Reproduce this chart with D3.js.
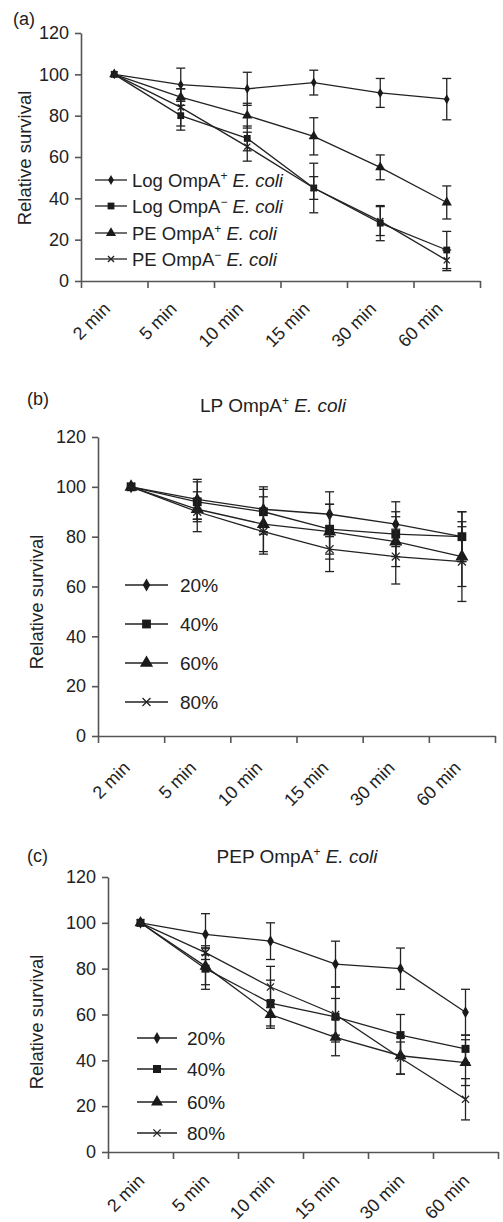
<!DOCTYPE html>
<html lang="en">
<head>
<meta charset="utf-8">
<script src="https://cdn.jsdelivr.net/npm/d3@7"></script>
<style>
body{margin:0;background:#fff;}
text{font-family:"Liberation Sans",Arial,sans-serif;fill:#222;}
.axis path,.axis line{stroke:#555;stroke-width:1.6;}
</style>
<title>Relative survival</title>
</head>
<body>
<div id="chart"></div>
<script>
const times = ["2 min","5 min","10 min","15 min","30 min","60 min"];
const yTicks = [0,20,40,60,80,100,120];

// (a) log / PE cells
const namesA = [["Log OmpA","+"],["Log OmpA","\u2212"],["PE OmpA","+"],["PE OmpA","\u2212"]];
const valuesA = [
  [100,95,93,96,91,88],
  [100,80,69,45,28,15],
  [100,89,80,70,55,38],
  [100,84,65,45,29,10]
];
const errorsA = [
  [0,8,8,6,7,10],
  [0,7,6,12,8.5,9],
  [0,4,6,9,6,8],
  [0,9,7,5.5,7,5]
];

// (b) LP OmpA+ E. coli
const namesB = ["20%","40%","60%","80%"];
const valuesB = [
  [100,95,91,89,85,80],
  [100,94,90,83,81,80],
  [100,91,85,82,78,72],
  [100,90,82,75,72,70]
];
const errorsB = [
  [0,8,9,9,9,10],
  [0,8,9,10,9,10],
  [0,4,11,11,10,12],
  [0,8,9,9,11,16]
];

// (c) PEP OmpA+ E. coli
const namesC = ["20%","40%","60%","80%"];
const valuesC = [
  [100,95,92,82,80,61],
  [100,80,65,59,51,45],
  [100,81,60,50,42,39],
  [100,87,72,60,41,23]
];
const errorsC = [
  [0,9,8,10,9,10],
  [0,9,10,8,9,6],
  [0,8,6,8,8,10],
  [0,3,9,12,7,9]
];

const shapes = ["diamond","square","triangle","star"];

const panels = [
  {tag:"(a)", tagX:13, tagY:25, title:null, x0:81, x1:480, yTop:33, yBot:281,
   labX:25, labY:158, tickOff:[-3,29], names:namesA, values:valuesA, errors:errorsA, italic:true,
   leg:{x1:95, x2:127, tx:132, ys:[180,206,233,259], fs:18.5}, ms:0.85},
  {tag:"(b)", tagX:27, tagY:405, title:"LP", titleX:273, titleY:412, x0:98, x1:495, yTop:437, yBot:736,
   labX:37, labY:602, tickOff:[0,33], names:namesB, values:valuesB, errors:errorsB, italic:false,
   leg:{x1:125, x2:168, tx:180, ys:[585,624,663,702], fs:19}, ms:1.1},
  {tag:"(c)", tagX:27, tagY:862, title:"PEP", titleX:297, titleY:863, x0:108, x1:498, yTop:877, yBot:1152,
   labX:37, labY:1022, tickOff:[5,30], names:namesC, values:valuesC, errors:errorsC, italic:false,
   leg:{x1:137, x2:177, tx:187, ys:[1038,1069,1102,1133], fs:19}, ms:1.0}
];

const W = 503, H = 1222;
const svg = d3.select("#chart").append("svg").attr("width", W).attr("height", H);

function marker(g, shape, x, y, k){
  if(shape == "star"){
    const s = 3.6*k;
    g.append("path")
      .attr("d","M"+(-s)+","+(-s)+"L"+s+","+s+"M"+(-s)+","+s+"L"+s+","+(-s))
      .attr("transform","translate("+x+","+y+")")
      .attr("stroke","#222").attr("stroke-width",1.3).attr("fill","none");
    return;
  }
  const sym = {diamond:d3.symbolDiamond, square:d3.symbolSquare, triangle:d3.symbolTriangle}[shape];
  const size = {diamond:40, square:64, triangle:62}[shape]*k*k;
  g.append("path")
    .attr("d", d3.symbol().type(sym).size(size)())
    .attr("transform","translate("+x+","+y+")")
    .attr("fill","#1a1a1a");
}

panels.forEach(function(p){
  const g = svg.append("g");
  const y = d3.scaleLinear().domain([0,120]).range([p.yBot,p.yTop]);
  const xi = d3.scaleLinear().domain([0,times.length]).range([p.x0,p.x1]);

  g.append("g").attr("class","axis")
    .attr("transform","translate("+p.x0+",0)")
    .call(d3.axisLeft(y).tickValues(yTicks).tickSize(6).tickSizeOuter(0).tickPadding(6))
    .selectAll("text").style("font-size","18px").style("font-family","'Liberation Sans',Arial,sans-serif").attr("fill","#222");

  g.append("g").attr("class","axis")
    .attr("transform","translate(0,"+p.yBot+")")
    .call(d3.axisBottom(xi).tickValues(d3.range(times.length+1)).tickFormat("").tickSize(7).tickSizeOuter(0));

  g.selectAll(".tlab")
    .data(times)
    .enter()
    .append("text")
    .attr("text-anchor","end")
    .style("font-size","18px")
    .attr("transform",function(d,i){return "translate("+(xi(i+0.5)+p.tickOff[0])+","+(p.yBot+p.tickOff[1])+") rotate(-45)";})
    .text(function(d){return d;});

  g.append("text").attr("x",p.tagX).attr("y",p.tagY).style("font-size","18px").text(p.tag);

  if(p.title){
    const t = g.append("text").attr("x",p.titleX).attr("y",p.titleY).attr("text-anchor","middle").style("font-size","19px");
    t.append("tspan").text(p.title + " OmpA");
    t.append("tspan").attr("baseline-shift","super").style("font-size","12px").text("+");
    t.append("tspan").text(" ");
    t.append("tspan").style("font-style","italic").text("E. coli");
  }

  g.append("text")
    .attr("transform","translate("+p.labX+","+p.labY+") rotate(-90)")
    .attr("text-anchor","middle").attr("dy","0.35em")
    .style("font-size","18.5px")
    .text("Relative survival");

  const line = d3.line().x(function(d,i){return xi(i+0.5);}).y(function(d){return y(d);});

  p.values.forEach(function(vals,s){
    const sg = g.append("g");
    sg.append("path").attr("d",line(vals)).attr("fill","none").attr("stroke","#222").attr("stroke-width",1.3);
    vals.forEach(function(v,i){
      const e = p.errors[s][i];
      if(e > 0){
        const cx = xi(i+0.5);
        sg.append("line").attr("x1",cx).attr("x2",cx).attr("y1",y(v-e)).attr("y2",y(v+e)).attr("stroke","#222").attr("stroke-width",1.3);
        [v-e, v+e].forEach(function(w){
          sg.append("line").attr("x1",cx-4.5).attr("x2",cx+4.5).attr("y1",y(w)).attr("y2",y(w)).attr("stroke","#222").attr("stroke-width",1.3);
        });
      }
      marker(sg, shapes[s], xi(i+0.5), y(v), p.ms);
    });
  });

  // legend
  p.names.forEach(function(n,s){
    const ly = p.leg.ys[s];
    g.append("line").attr("x1",p.leg.x1).attr("x2",p.leg.x2).attr("y1",ly).attr("y2",ly).attr("stroke","#222").attr("stroke-width",1.3);
    marker(g, shapes[s], (p.leg.x1+p.leg.x2)/2, ly, p.ms);
    const t = g.append("text").attr("x",p.leg.tx).attr("y",ly).attr("dy","0.36em").style("font-size",p.leg.fs+"px");
    if(p.italic){
      t.append("tspan").text(n[0]);
      t.append("tspan").attr("baseline-shift","super").style("font-size","12px").text(n[1]);
      t.append("tspan").text(" ");
      t.append("tspan").style("font-style","italic").text("E. coli");
    } else {
      t.text(n);
    }
  });
});
</script>
</body>
</html>
